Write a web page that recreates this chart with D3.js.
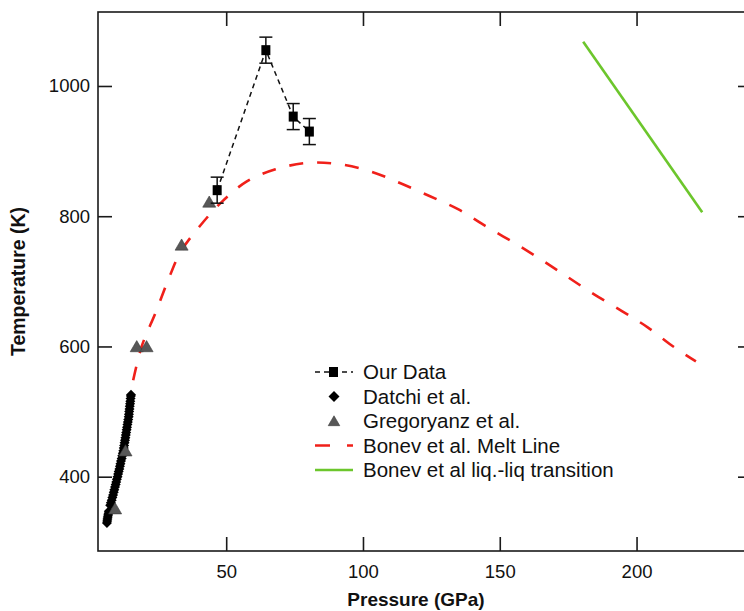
<!DOCTYPE html>
<html>
<head>
<meta charset="utf-8">
<script src="https://cdn.jsdelivr.net/npm/d3@7/dist/d3.min.js"></script>
<style>
  html, body { margin: 0; padding: 0; background: #fff; }
  svg { display: block; }
  text { font-family: "Liberation Sans", Arial, Helvetica, sans-serif; fill: #111; }
</style>
</head>
<body>
<svg id="chart" width="744" height="611"></svg>
<script>
// ---------- data ----------
const ourP   = [46.7, 64.5, 74.5, 80.4];
const ourT   = [840, 1055, 953, 930];
const ourErr = [20, 20, 20, 20];

const datchiP = [6.4, 6.5, 6.6, 6.7, 6.85, 7.0, 7.1,
  7.6, 7.85, 8.15, 8.4, 8.65, 8.9, 9.1, 9.35, 9.6, 9.8, 10.05, 10.3, 10.5, 10.7,
  10.95, 11.15, 11.35, 11.55, 11.8, 12.0, 12.2, 12.4, 12.55, 12.7, 12.85, 13.0,
  13.15, 13.3, 13.45, 13.6, 13.75, 13.9, 14.05, 14.2, 14.35, 14.45, 14.55, 14.65,
  14.75, 14.85, 14.95, 15.05, 15.15, 15.2];
const datchiT = [329, 332, 335, 338, 341, 344, 347,
  356, 360, 364, 368, 372, 376, 380, 384, 388, 392, 396, 400, 404, 408,
  412, 416, 420, 424, 428, 432, 436, 440, 444, 448, 452, 456,
  460, 464, 468, 472, 476, 480, 484, 488, 492, 496, 500, 504,
  508, 512, 516, 520, 524, 526];

const gregP = [9.4, 13.2, 17.3, 20.9, 33.7, 43.8];
const gregT = [351, 440, 600, 600, 756, 822];

const bonevMeltP = [16.0, 19.1, 24.3, 28.7, 33.3, 40.4, 48.4, 57.4, 68.0, 79.7, 91.2,
  102.6, 113.5, 124.3, 135.1, 144.7, 154.9, 164.9, 174.7, 184.5, 194.8, 204.2, 213.7, 221.7];
const bonevMeltT = [548, 600, 653, 701, 745, 785, 822, 853, 872, 882, 880,
  869, 851, 831, 810, 785, 760, 734, 707, 680, 654, 629, 599, 577];

const bonevLLP = [180.5, 224.0];
const bonevLLT = [1068, 806];

const xTicks = [50, 100, 150, 200];
const yTicks = [400, 600, 800, 1000];

const legendLabels = ["Our Data", "Datchi et al.", "Gregoryanz et al.",
  "Bonev et al. Melt Line", "Bonev et al liq.-liq transition"];

// ---------- layout ----------
const svg = d3.select("#chart");
const L = 98, R = 752, T = 12, B = 551;
const x = d3.scaleLinear().domain([3.14, 242.2]).range([L, R]);
const y = d3.scaleLinear().domain([285.9, 1113.6]).range([B, T]);

const RED = "#f0201a", GREEN = "#6cc62c", GRAY = "#575757";

// frame
svg.append("rect").attr("x", L).attr("y", T).attr("width", R - L).attr("height", B - T)
  .attr("fill", "none").attr("stroke", "#1a1a1a").attr("stroke-width", 1.6);

const tickLen = 14;
const fmt = d3.format("d");
// bottom axis (inner ticks)
const xb = d3.axisBottom(x).tickValues(xTicks).tickFormat(fmt).tickSizeInner(-tickLen).tickSizeOuter(0).tickPadding(14);
const gx = svg.append("g").attr("transform", `translate(0,${B})`).call(xb);
gx.select(".domain").remove();
gx.selectAll("line").attr("stroke", "#1a1a1a").attr("stroke-width", 1.6);
gx.selectAll("text").attr("font-size", "18.5px").attr("font-family", "Liberation Sans, Arial, sans-serif").attr("fill", "#111");

// top ticks
const xt = d3.axisTop(x).tickValues(xTicks).tickSizeInner(-tickLen).tickSizeOuter(0).tickFormat("");
const gxt = svg.append("g").attr("transform", `translate(0,${T})`).call(xt);
gxt.select(".domain").remove();
gxt.selectAll("line").attr("stroke", "#1a1a1a").attr("stroke-width", 1.6);

// left axis
const yl = d3.axisLeft(y).tickValues(yTicks).tickFormat(fmt).tickSizeInner(-tickLen).tickSizeOuter(0).tickPadding(8);
const gy = svg.append("g").attr("transform", `translate(${L},0)`).call(yl);
gy.select(".domain").remove();
gy.selectAll("line").attr("stroke", "#1a1a1a").attr("stroke-width", 1.6);
gy.selectAll("text").attr("font-size", "18.5px").attr("font-family", "Liberation Sans, Arial, sans-serif").attr("fill", "#111");

// right ticks
const yr = d3.axisRight(y).tickValues(yTicks).tickSizeInner(-tickLen).tickSizeOuter(0).tickFormat("");
const gyr = svg.append("g").attr("transform", `translate(${R},0)`).call(yr);
gyr.select(".domain").remove();
gyr.selectAll("line").attr("stroke", "#1a1a1a").attr("stroke-width", 1.6);

// axis titles
svg.append("text").attr("x", 416).attr("y", 606).attr("text-anchor", "middle")
  .attr("font-size", "19px").attr("font-weight", "bold").text("Pressure (GPa)");
svg.append("text").attr("transform", `translate(25,${(T + B) / 2}) rotate(-90)`)
  .attr("text-anchor", "middle").attr("font-size", "19.5px").attr("font-weight", "bold")
  .text("Temperature (K)");

// ---------- plot ----------
const plot = svg.append("g");

// Bonev liq-liq
const line = d3.line().x(d => x(d[0])).y(d => y(d[1]));
plot.append("path").datum(bonevLLP.map((p, i) => [p, bonevLLT[i]]))
  .attr("d", line).attr("fill", "none").attr("stroke", GREEN).attr("stroke-width", 2.6);

// Bonev melt line (dashed red)
const curve = d3.line().curve(d3.curveCatmullRom.alpha(0.5)).x(d => x(d[0])).y(d => y(d[1]));
plot.append("path").datum(bonevMeltP.map((p, i) => [p, bonevMeltT[i]]))
  .attr("d", curve).attr("fill", "none").attr("stroke", RED).attr("stroke-width", 2.6)
  .attr("stroke-dasharray", "14,14");

// symbol helpers (shape relative to origin; positions come from scales)
const diamondPath = s => `M0,${-s}L${s},0L0,${s}L${-s},0Z`;
const triPath = s => `M0,${-s * 0.95}L${s * 1.05},${s * 0.85}L${-s * 1.05},${s * 0.85}Z`;

// Datchi diamonds
plot.append("g").selectAll("path").data(datchiP.map((p, i) => [p, datchiT[i]])).join("path")
  .attr("transform", d => `translate(${x(d[0])},${y(d[1])})`)
  .attr("d", diamondPath(5)).attr("fill", "#000");

// Gregoryanz triangles
plot.append("g").selectAll("path").data(gregP.map((p, i) => [p, gregT[i]])).join("path")
  .attr("transform", d => `translate(${x(d[0])},${y(d[1])})`)
  .attr("d", triPath(6.2)).attr("fill", GRAY).attr("stroke", "#3a3a3a").attr("stroke-width", 0.6);

// Our data: dashed connecting line
const ours = ourP.map((p, i) => ({ p, t: ourT[i], e: ourErr[i] }));
plot.append("path").datum(ours).attr("d", d3.line().x(d => x(d.p)).y(d => y(d.t)))
  .attr("fill", "none").attr("stroke", "#111").attr("stroke-width", 1.5).attr("stroke-dasharray", "5,4");

// error bars
const eg = plot.append("g").attr("stroke", "#111").attr("stroke-width", 1.5);
ours.forEach(d => {
  eg.append("line").attr("x1", x(d.p)).attr("x2", x(d.p)).attr("y1", y(d.t - d.e)).attr("y2", y(d.t + d.e));
  [d.t - d.e, d.t + d.e].forEach(v => {
    eg.append("line").attr("x1", x(d.p) - 6.5).attr("x2", x(d.p) + 6.5).attr("y1", y(v)).attr("y2", y(v));
  });
});
plot.append("g").selectAll("rect").data(ours).join("rect")
  .attr("x", d => x(d.p) - 4.5).attr("y", d => y(d.t) - 5).attr("width", 9).attr("height", 10)
  .attr("fill", "#000");

// ---------- legend ----------
const lg = svg.append("g");
const rowY = [372, 396.5, 421, 445.5, 470];
const lx0 = 315, lx1 = 353, lxc = 334, tx = 363;
legendLabels.forEach((lab, i) => {
  lg.append("text").attr("x", tx).attr("y", rowY[i]).attr("dy", "0.36em")
    .attr("font-size", "20.5px").text(lab);
});
// Our data
lg.append("line").attr("x1", lx0).attr("x2", lx1).attr("y1", rowY[0]).attr("y2", rowY[0])
  .attr("stroke", "#111").attr("stroke-width", 1.5).attr("stroke-dasharray", "5,4");
lg.append("rect").attr("x", lxc - 5).attr("y", rowY[0] - 5).attr("width", 9).attr("height", 10).attr("fill", "#000");
// Datchi
lg.append("path").attr("transform", `translate(${lxc},${rowY[1]})`).attr("d", diamondPath(5.5)).attr("fill", "#000");
// Gregoryanz
lg.append("path").attr("transform", `translate(${lxc},${rowY[2]})`).attr("d", triPath(5.5))
  .attr("fill", GRAY).attr("stroke", "#3a3a3a").attr("stroke-width", 0.6);
// Bonev melt
lg.append("line").attr("x1", lx0).attr("x2", lx1).attr("y1", rowY[3]).attr("y2", rowY[3])
  .attr("stroke", RED).attr("stroke-width", 2.4).attr("stroke-dasharray", "15,17");
// Bonev liq-liq
lg.append("line").attr("x1", lx0).attr("x2", lx1).attr("y1", rowY[4]).attr("y2", rowY[4])
  .attr("stroke", GREEN).attr("stroke-width", 2.4);
</script>
</body>
</html>
